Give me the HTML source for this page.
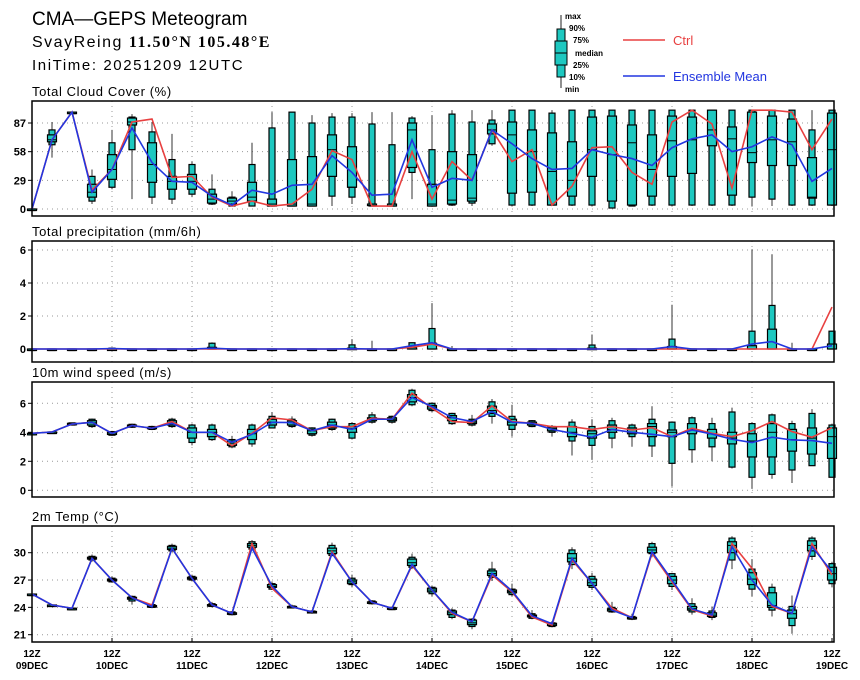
<!DOCTYPE html>
<html><head><meta charset="utf-8">
<style>
html,body{margin:0;padding:0;background:#fff;}
svg{display:block;font-family:"Liberation Sans",sans-serif;}
</style></head>
<body>
<svg id="chart" width="860" height="680" viewBox="0 0 860 680" xmlns="http://www.w3.org/2000/svg">
  <text x="32" y="25" font-size="19">CMA—GEPS Meteogram</text>
  <text x="32" y="47" font-size="16" letter-spacing="1.5">SvayReing <tspan font-family="Liberation Serif, serif" font-weight="bold">11.50°N 105.48°E</tspan></text>
  <text x="32" y="70" font-size="15" letter-spacing="1.6">IniTime: 20251209 12UTC</text>
  <g>
    <line x1="561" y1="15" x2="561" y2="88" stroke="#222" stroke-width="1"/>
    <rect x="557" y="29" width="8" height="48" fill="#1ec8c0" stroke="#000"/>
    <rect x="555" y="41" width="12" height="24" fill="#1ec8c0" stroke="#000"/>
    <line x1="555" y1="53" x2="567" y2="53" stroke="#000"/>
    <g font-size="8" font-weight="bold">
      <text x="565" y="19">max</text>
      <text x="569" y="31">90%</text>
      <text x="573" y="43">75%</text>
      <text x="575" y="56">median</text>
      <text x="573" y="68">25%</text>
      <text x="569" y="80">10%</text>
      <text x="565" y="92">min</text>
    </g>
    <line x1="623" y1="40" x2="665" y2="40" stroke="#e84040" stroke-width="1.5"/>
    <text x="673" y="45" font-size="13" fill="#e84040">Ctrl</text>
    <line x1="623" y1="76" x2="665" y2="76" stroke="#2236e0" stroke-width="1.5"/>
    <text x="673" y="81" font-size="13" fill="#2236e0">Ensemble Mean</text>
  </g>
</svg>
<script>
// ---- Cloud cover (%) ----
const cloudCtrl=[0,70,98,19,40,88,91,32,33,12,3,8,3,5,20,59,50,3,3,58,10,48,29,80,48,60,4,23,62,63,37,25,88,100,86,21,100,100,98,60,91];
const cloudMean=[0,70,98,17,40,82,47,28,27,13,4,19,15,24,25,54,37,14,15,70,22,31,29,80,66,51,40,41,60,55,51,44,62,71,75,58,63,73,65,28,41];
const cloudMin=[0,52,97,5,20,10,5,5,12,4,3,3,3,3,3,3,5,3,3,10,3,3,3,64,3,3,3,3,3,1,3,3,3,3,3,3,3,3,3,3,3];
const cloudP10=[0,65,97,8,22,60,12,10,15,5,3,3,3,3,3,13,12,3,3,37,3,4,6,66,4,4,4,4,4,1,3,4,4,4,4,4,12,10,4,4,4];
const cloudP25=[0,68,97,12,30,85,27,20,20,6,5,8,3,3,3,33,22,5,3,42,3,5,8,76,16,17,4,13,33,8,4,13,33,36,64,14,47,44,44,11,4];
const cloudMed=[0,70,98,17,40,88,45,28,28,10,8,12,5,5,5,60,22,5,5,80,5,9,11,80,75,58,38,29,60,55,67,40,69,70,80,71,57,70,68,12,60];
const cloudP75=[0,75,98,25,55,92,67,33,35,15,11,27,10,50,53,75,63,5,5,87,25,58,55,86,88,80,77,68,93,94,85,75,94,93,100,83,98,94,91,52,97];
const cloudP90=[0,80,98,33,67,93,78,50,45,20,12,45,82,98,87,93,93,86,65,92,60,96,88,90,100,100,97,100,100,100,100,100,100,100,100,100,100,100,100,80,100];
const cloudMax=[0,88,99,40,80,96,88,76,48,35,18,67,98,98,95,97,97,98,98,94,95,100,100,100,100,100,100,100,100,100,100,100,100,100,100,100,100,100,100,100,100];
const cloudTicks=[0,29,58,87];
// ---- Precipitation (mm/6h) ----
const precCtrl=[0,0,0,0,0,0,0,0,0,0,0,0,0,0,0,0,0,0,0,0.1,0.3,0,0,0,0,0,0,0,0,0,0,0,0,0,0,0,0,0,0,0,2.54];
const precMean=[0,0,0,0,0.03,0,0,0,0,0.05,0,0,0,0,0,0,0.02,0,0,0.2,0.38,0,0,0,0,0,0,0,0,0,0,0,0.15,0,0,0,0.3,0.45,0,0,0.2];
const precMin=[0,0,0,0,0,0,0,0,0,0,0,0,0,0,0,0,0,0,0,0,0,0,0,0,0,0,0,0,0,0,0,0,0,0,0,0,0,0,0,0,0];
const precP10=[0,0,0,0,0,0,0,0,0,0,0,0,0,0,0,0,0,0,0,0,0,0,0,0,0,0,0,0,0,0,0,0,0,0,0,0,0,0,0,0,0];
const precP25=[0,0,0,0,0,0,0,0,0,0,0,0,0,0,0,0,0,0,0,0,0,0,0,0,0,0,0,0,0,0,0,0,0,0,0,0,0,0,0,0,0];
const precMed=[0,0,0,0,0,0,0,0,0,0,0,0,0,0,0,0,0,0,0,0,0,0,0,0,0,0,0,0,0,0,0,0,0,0,0,0,0,0,0,0,0];
const precP75=[0,0,0,0,0,0,0,0,0,0.1,0,0,0,0,0,0,0.05,0,0,0.1,0.35,0,0,0,0,0,0,0,0.05,0,0,0,0.15,0,0,0,0.2,1.2,0,0,0.3];
const precP90=[0,0,0,0,0.05,0,0,0,0,0.35,0,0,0,0,0,0,0.25,0,0,0.38,1.24,0,0,0,0,0,0,0,0.24,0,0,0,0.6,0,0,0,1.08,2.64,0,0,1.08];
const precMax=[0,0,0,0,0.1,0,0,0,0,0.4,0,0,0,0,0,0,0.6,0.5,0,0.4,2.78,0.18,0,0,0,0,0,0,0.88,0,0,0,2.68,0,0,0,6.04,5.74,0.38,0,1.1];
const precTicks=[0,2,4,6];
// ---- 10m wind speed (m/s) ----
const windCtrl=[3.93,4.02,4.57,4.69,3.93,4.46,4.28,4.74,4.0,4.0,3.08,3.93,5.0,4.85,4.11,4.39,4.39,4.97,4.9,6.69,5.66,4.74,4.67,5.82,4.74,4.62,4.39,4.39,4.2,4.39,4.16,4.32,3.7,4.28,3.93,3.7,4.11,4.74,4.05,3.66,4.32];
const windMean=[3.93,4.02,4.57,4.69,3.93,4.46,4.28,4.62,4.0,4.0,3.31,3.86,4.69,4.67,4.11,4.5,4.2,4.9,4.9,6.41,5.77,5.01,4.74,5.43,4.69,4.62,4.2,3.93,3.66,4.2,4.0,3.86,3.7,4.16,3.88,3.52,3.29,3.66,3.47,3.43,3.24];
const windMin=[3.93,4.02,4.5,4.3,3.75,4.3,4.15,4.3,3.1,3.4,2.9,3.0,4.3,4.3,3.7,4.1,3.5,4.6,4.6,5.8,5.4,4.5,4.4,4.6,3.7,4.35,3.7,2.4,2.1,2.9,3.0,2.3,0.25,1.9,2.0,1.5,0.1,0.8,0.5,1.7,0.9];
const windP10=[3.93,4.02,4.5,4.4,3.8,4.35,4.2,4.4,3.3,3.5,3.0,3.2,4.3,4.4,3.8,4.2,3.6,4.7,4.7,5.9,5.5,4.6,4.5,5.1,4.2,4.4,4.0,3.4,3.1,3.6,3.7,3.06,1.86,2.8,3.0,1.6,0.9,1.1,1.4,1.7,0.9];
const windP25=[3.93,4.02,4.52,4.5,3.85,4.4,4.25,4.5,3.6,3.7,3.1,3.5,4.5,4.5,3.9,4.3,4.0,4.8,4.8,6.1,5.6,4.8,4.6,5.3,4.5,4.5,4.1,3.7,3.6,4.0,3.9,3.7,3.7,3.9,3.6,3.2,2.3,2.3,2.7,2.5,2.2];
const windMed=[3.93,4.02,4.57,4.65,3.95,4.45,4.3,4.65,4.0,4.0,3.25,3.9,4.7,4.7,4.1,4.5,4.25,4.9,4.9,6.4,5.75,5.0,4.7,5.5,4.7,4.6,4.25,4.0,3.9,4.2,4.0,4.4,4.0,4.2,3.9,3.6,3.4,4.0,3.5,3.6,3.7];
const windP75=[3.93,4.02,4.62,4.8,4.0,4.5,4.35,4.8,4.3,4.2,3.4,4.2,4.9,4.8,4.2,4.7,4.4,5.0,5.0,6.6,5.85,5.15,4.8,5.8,4.9,4.7,4.35,4.4,4.1,4.5,4.3,4.6,4.16,4.6,4.2,4.0,3.9,4.6,4.2,4.3,4.3];
const windP90=[3.93,4.02,4.65,4.9,4.05,4.55,4.4,4.9,4.5,4.5,3.5,4.5,5.1,4.9,4.3,4.9,4.6,5.2,5.1,6.9,6.0,5.3,4.9,6.1,5.1,4.8,4.4,4.7,4.4,4.8,4.5,4.9,4.7,5.0,4.6,5.4,4.6,5.2,4.6,5.3,4.5];
const windMax=[3.93,4.02,4.65,4.95,4.1,4.6,4.45,5.0,4.6,4.6,3.75,4.6,5.4,5.1,4.35,4.95,4.7,5.4,5.15,7.0,6.05,5.35,5.2,6.3,5.9,4.85,4.5,4.9,4.9,5.0,4.6,5.8,4.75,5.1,5.0,5.7,4.7,5.3,4.8,5.6,4.6];
const windTicks=[0,2,4,6];
// ---- 2m Temperature (°C) ----
const tempCtrl=[25.46,24.26,23.9,29.38,27.0,25.06,24.26,30.48,27.18,24.26,23.34,31.0,26.1,24.07,23.5,30.1,26.8,24.55,23.9,28.6,25.9,23.34,22.43,27.55,25.7,22.94,22.06,29.2,26.63,23.9,22.86,29.93,26.8,23.75,23.05,31.0,28.28,24.1,23.34,31.0,27.55];
const tempMean=[25.46,24.26,23.9,29.38,27.0,25.06,24.07,30.48,27.18,24.26,23.34,30.5,26.34,24.07,23.5,29.93,26.8,24.55,23.9,28.72,25.9,23.45,22.43,27.73,25.8,23.08,22.2,29.38,26.63,23.7,22.86,30.1,27.0,23.82,23.16,30.66,27.0,24.26,23.34,30.66,27.9];
const tempMin=[25.46,24.26,23.9,29.0,26.7,24.3,23.9,30.1,26.9,24.0,23.1,30.3,25.9,23.9,23.3,29.6,26.2,24.3,23.7,28.2,25.2,22.7,21.6,26.9,25.2,22.7,21.8,28.2,25.9,23.4,22.6,29.5,25.9,23.2,22.6,28.2,25.2,23.0,21.1,29.2,26.2];
const tempP10=[25.46,24.26,23.9,29.2,26.8,24.7,24.0,30.2,27.0,24.1,23.2,30.4,26.0,23.95,23.4,29.7,26.5,24.4,23.75,28.4,25.5,22.9,21.9,27.3,25.4,22.8,21.9,28.7,26.2,23.5,22.7,29.9,26.3,23.5,22.9,29.2,26.0,23.7,22.0,29.6,26.6];
const tempP25=[25.46,24.26,23.9,29.3,26.9,24.9,24.05,30.35,27.1,24.2,23.25,30.6,26.2,24.0,23.45,29.9,26.6,24.5,23.8,28.6,25.7,23.2,22.1,27.5,25.6,22.95,22.0,29.0,26.4,23.6,22.8,30.0,26.6,23.7,23.0,30.0,26.5,24.0,22.8,30.2,27.0];
const tempMed=[25.46,24.26,23.9,29.4,27.0,25.0,24.1,30.5,27.2,24.25,23.35,30.8,26.3,24.05,23.5,30.2,26.8,24.55,23.9,28.9,25.9,23.4,22.3,27.7,25.75,23.05,22.15,29.4,26.7,23.75,22.85,30.3,27.0,23.85,23.15,30.8,27.1,24.2,23.3,30.8,27.7];
const tempP75=[25.46,24.26,23.9,29.5,27.1,25.1,24.2,30.7,27.3,24.3,23.4,31.0,26.5,24.1,23.55,30.5,27.0,24.6,23.95,29.3,26.1,23.6,22.6,28.0,25.9,23.15,22.25,29.9,27.1,23.85,22.9,30.6,27.4,24.1,23.4,31.2,27.8,25.6,23.7,31.3,28.4];
const tempP90=[25.46,24.26,23.9,29.6,27.2,25.2,24.3,30.8,27.4,24.4,23.5,31.2,26.6,24.15,23.6,30.8,27.2,24.7,24.0,29.5,26.2,23.7,22.7,28.2,26.0,23.3,22.3,30.3,27.4,24.0,23.0,31.0,27.7,24.4,23.6,31.6,28.2,26.2,24.1,31.6,28.8];
const tempMax=[25.46,24.26,23.9,29.8,27.4,25.3,24.4,31.0,27.6,24.6,23.6,31.4,26.8,24.3,23.7,31.1,27.6,24.8,24.1,29.9,26.4,23.9,22.8,29.0,26.6,23.7,22.5,30.6,27.8,24.6,23.3,31.2,27.8,25.0,24.1,31.8,29.3,26.6,25.3,31.8,29.0];
const tempTicks=[21,24,27,30];
// ---- Time axis ----
const dayLabels=["09DEC","10DEC","11DEC","12DEC","13DEC","14DEC","15DEC","16DEC","17DEC","18DEC","19DEC"];
const stepsPerDay=4;

const NS="http://www.w3.org/2000/svg";
const svg=document.getElementById('chart');
const X0=32, X1=834, DX=20;
function xScale(i){return X0+i*DX;}
function mk(tag,attrs,parent){const e=document.createElementNS(NS,tag);for(const k in attrs)e.setAttribute(k,attrs[k]);(parent||svg).appendChild(e);return e;}

const panels=[
 {key:'cloud',title:'Total Cloud Cover (%)',top:101,bottom:216,y0:209,v0:0,k:0.9885,ticks:cloudTicks,
  ctrl:cloudCtrl,mean:cloudMean,mn:cloudMin,p10:cloudP10,p25:cloudP25,md:cloudMed,p75:cloudP75,p90:cloudP90,mx:cloudMax},
 {key:'precip',title:'Total precipitation (mm/6h)',top:241,bottom:362,y0:349,v0:0,k:16.5,ticks:precTicks,
  ctrl:precCtrl,mean:precMean,mn:precMin,p10:precP10,p25:precP25,md:precMed,p75:precP75,p90:precP90,mx:precMax},
 {key:'wind',title:'10m wind speed (m/s)',top:382,bottom:497,y0:490.3,v0:0,k:14.5,ticks:windTicks,
  ctrl:windCtrl,mean:windMean,mn:windMin,p10:windP10,p25:windP25,md:windMed,p75:windP75,p90:windP90,mx:windMax},
 {key:'temp',title:'2m Temp (°C)',top:526,bottom:642,y0:552.7,v0:30,k:9.11,ticks:tempTicks,
  ctrl:tempCtrl,mean:tempMean,mn:tempMin,p10:tempP10,p25:tempP25,md:tempMed,p75:tempP75,p90:tempP90,mx:tempMax}
];

panels.forEach(p=>{
  const yS=v=>p.y0-(v-p.v0)*p.k;
  const g=mk('g',{});
  
  
  const t=mk('text',{x:32,y:p.top-5,'font-size':13,'letter-spacing':0.6},g);
  t.textContent=p.title;
  
  
  for(let d=1;d<dayLabels.length-1;d++){
    const gx=xScale(d*stepsPerDay);
    const l=mk('line',{x1:gx,x2:gx,y1:p.top,y2:p.bottom,stroke:'#999','stroke-width':1,'stroke-dasharray':'1,4'},g);
    
    
  }
  p.ticks.forEach(v=>{
    const y=yS(v);
    const l=mk('line',{x1:X0,x2:X1,y1:y,y2:y,stroke:'#999','stroke-width':1,'stroke-dasharray':'1,4'},g);
    
    
    const tk=mk('line',{x1:X0-4,x2:X0,y1:y,y2:y,stroke:'#000','stroke-width':1},g);
    
    
    const tl=mk('text',{x:X0-6,y:y+4,'font-size':11,'font-weight':'bold','text-anchor':'end'},g);
    tl.textContent=String(v);
    
    
  });
  p.md.forEach((m,i)=>{
    const x=xScale(i);
    const bg=mk('g',{},g);
    
    
    mk('line',{x1:x,x2:x,y1:yS(p.mn[i]),y2:yS(p.mx[i]),stroke:'#333','stroke-width':1},bg);
    const a=yS(p.p90[i]),b=yS(p.p10[i]);
    mk('rect',{x:x-3,y:a,width:6,height:Math.max(b-a,1.5),fill:'#1ec8c0',stroke:'#000','stroke-width':1.2},bg);
    const c=yS(p.p75[i]),d=yS(p.p25[i]);
    mk('rect',{x:x-4.5,y:c,width:9,height:Math.max(d-c,1.5),fill:'#1ec8c0',stroke:'#000','stroke-width':1.2},bg);
    mk('line',{x1:x-4.5,x2:x+4.5,y1:yS(m),y2:yS(m),stroke:'#000','stroke-width':1},bg);
  });
  const ctrlPts=p.ctrl.map((v,i)=>xScale(i)+','+yS(v)).join(' ');
  const cl=mk('polyline',{points:ctrlPts,fill:'none',stroke:'#e84040','stroke-width':1.6},g);
  
  
  const meanPts=p.mean.map((v,i)=>xScale(i)+','+yS(v)).join(' ');
  const ml=mk('polyline',{points:meanPts,fill:'none',stroke:'#2236e0','stroke-width':1.6},g);
  
  
  const fr=mk('rect',{x:X0,y:p.top,width:X1-X0,height:p.bottom-p.top,fill:'none',stroke:'#000','stroke-width':1.5},g);
  
  
});

const last=panels[3];
dayLabels.forEach((lab,d)=>{
  const x=xScale(d*stepsPerDay);
  const tk=mk('line',{x1:x,x2:x,y1:last.bottom,y2:last.bottom-4,stroke:'#000','stroke-width':1});
  
  
  const t1=mk('text',{x:x,y:657,'font-size':10,'font-weight':'bold','text-anchor':'middle'});
  t1.textContent='12Z';
  
  
  const t2=mk('text',{x:x,y:669,'font-size':10,'font-weight':'bold','text-anchor':'middle'});
  t2.textContent=lab;
  
  
});
</script>
</body></html>
